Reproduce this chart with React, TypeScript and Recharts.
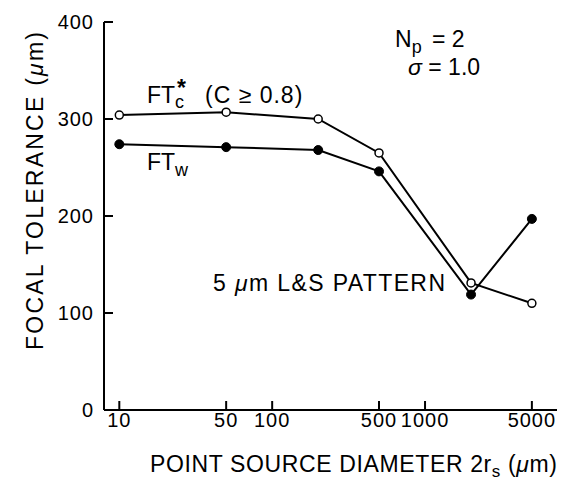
import React from "react";
import { LineChart, Line, XAxis, YAxis } from "recharts";

// point source diameter 2rs (um) and focal tolerance (um)
const diameters = [10, 50, 200, 500, 2000, 5000];
const ftContrast = [304, 307, 300, 265, 131, 110];
const ftWidth = [274, 271, 268, 246, 119, 197];

const xTicks = [10, 50, 100, 500, 1000, 5000];
const yTicks = [0, 100, 200, 300, 400];

const data = diameters.map((d, i) => ({
  d,
  ftc: ftContrast[i],
  ftw: ftWidth[i],
}));

const FONT = '"Liberation Sans", Arial, Helvetica, sans-serif';

const tickStyle = { fontSize: 20, fill: "#000", fontFamily: FONT, letterSpacing: 1 };

const Annotations = () => (
  <svg
    width={568}
    height={486}
    style={{ position: "absolute", left: 0, top: 0, pointerEvents: "none" }}
    fontFamily={FONT}
    fill="#000"
  >
    {/* FTc* (C >= 0.8) */}
    <text x={147} y={103} fontSize={23}>
      FT
      <tspan fontSize={18} dy={5}>c</tspan>
      <tspan x={177} dy={-12} fontWeight="bold">*</tspan>
      <tspan x={205} dy={7} letterSpacing={1}>(C ≥ 0.8)</tspan>
    </text>

    {/* FTw */}
    <text x={147} y={170} fontSize={23}>
      FT
      <tspan fontSize={18} dy={6}>w</tspan>
    </text>

    <text x={213} y={291} fontSize={23} textLength={232} lengthAdjust="spacing">
      5 <tspan fontStyle="italic">μ</tspan>m L&amp;S PATTERN
    </text>

    <text x={395} y={47} fontSize={23}>
      N
      <tspan fontSize={18} dy={6}>p</tspan>
      <tspan x={432} dy={-6}>=  2</tspan>
    </text>
    <text x={408} y={75} fontSize={23}>
      <tspan fontStyle="italic">σ</tspan> =  1.0
    </text>

    {/* axis titles */}
    <text
      transform="translate(43,191) rotate(-90)"
      textAnchor="middle"
      fontSize={23}
      textLength={318}
      lengthAdjust="spacing"
    >
      FOCAL  TOLERANCE (<tspan fontStyle="italic">μ</tspan>m)
    </text>
    <text x={150} y={472} fontSize={23} textLength={407} lengthAdjust="spacing">
      POINT SOURCE DIAMETER 2r<tspan fontSize={17} dy={5}>s</tspan>
      <tspan dy={-5}> (</tspan>
      <tspan fontStyle="italic">μ</tspan>m)
    </text>
  </svg>
);

export default function App() {
  return (
    <div style={{ position: "absolute", left: 0, top: 0, width: 568, height: 486, background: "#fff" }}>
      <LineChart
        width={568}
        height={486}
        data={data}
        margin={{ top: 22, right: 11, left: 44, bottom: 46 }}
      >
        <XAxis
          dataKey="d"
          type="number"
          scale="log"
          domain={[7.94, 7300]}
          ticks={xTicks}
          allowDataOverflow
          height={30}
          tickSize={-9}
          tickMargin={12}
          axisLine={{ stroke: "#000", strokeWidth: 2 }}
          tickLine={{ stroke: "#000", strokeWidth: 2 }}
          tick={tickStyle}
          interval={0}
        />
        <YAxis
          type="number"
          domain={[0, 400]}
          ticks={yTicks}
          width={60}
          tickSize={-9}
          tickMargin={19}
          axisLine={{ stroke: "#000", strokeWidth: 2 }}
          tickLine={{ stroke: "#000", strokeWidth: 2 }}
          tick={tickStyle}
          interval={0}
        />
        <Line
          dataKey="ftc"
          stroke="#000"
          strokeWidth={2}
          dot={{ r: 4, fill: "#fff", stroke: "#000", strokeWidth: 1.5 }}
          isAnimationActive={false}
        />
        <Line
          dataKey="ftw"
          stroke="#000"
          strokeWidth={2}
          dot={{ r: 4.5, fill: "#000", stroke: "#000", strokeWidth: 1 }}
          isAnimationActive={false}
        />
      </LineChart>
      <Annotations />
    </div>
  );
}
